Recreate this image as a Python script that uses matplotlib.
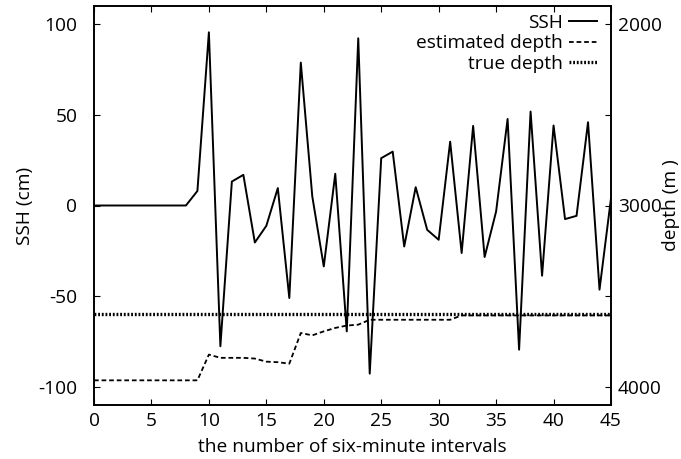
import matplotlib
matplotlib.use("Agg")
import matplotlib.pyplot as plt
import numpy as np

plt.rcParams['font.family'] = ['Open Sans', 'DejaVu Sans']
plt.rcParams['axes.unicode_minus'] = False

intervals = list(range(46))
ssh = [0, 0, 0, 0, 0, 0, 0, 0, 0, 8, 95.5, -77.6, 13.2, 16.9, -20.4, -11.2, 9.6, -51,
       78.8, 5, -33.6, 17.5, -69.4, 92.2, -92.7, 26.1, 29.7, -22.6, 10.1, -13.4, -18.9,
       35.2, -26.2, 43.9, -28.4, -3.3, 47.7, -79.5, 51.8, -38.7, 44.1, -7.5, -5.7, 45.9,
       -46.4, 4]
est_depth = [3964, 3964, 3964, 3964, 3964, 3964, 3964, 3964, 3964, 3964, 3822, 3840,
             3840, 3840, 3844, 3861, 3864, 3872, 3703, 3716, 3694, 3675, 3662, 3657,
             3630, 3630, 3630, 3630, 3630, 3630, 3630, 3630, 3606, 3606, 3606, 3606,
             3606, 3606, 3606, 3606, 3606, 3606, 3606, 3606, 3606, 3606]
true_depth = [3600] * 46

x_ticks = [0, 5, 10, 15, 20, 25, 30, 35, 40, 45]
ssh_ticks = [-100, -50, 0, 50, 100]
depth_ticks = [2000, 2500, 3000, 3500, 4000]
depth_labels = ['2000', '', '3000', '', '4000']

fig = plt.figure(figsize=(6.81, 4.59), dpi=100)
ax = fig.add_axes([94/681, 54/459, (611-94)/681, (405-6)/459])
ax2 = ax.twinx()

l1, = ax.plot(intervals, ssh, color='black', lw=1.4, label='SSH')
l2, = ax2.plot(intervals, est_depth, color='black', lw=1.3, ls=(0, (2.6, 1.6)), label='estimated depth')
l3, = ax2.plot(intervals, true_depth, color='black', lw=2.4, ls=(0, (0.55, 0.55)), label='true depth')

ax.set_xlim(0, 45)
ax.set_ylim(-110, 110)
ax2.set_ylim(4100, 1900)
ax.set_xticks(x_ticks)
ax.set_yticks(ssh_ticks)
ax2.set_yticks(depth_ticks)
ax2.set_yticklabels(depth_labels)

fs = 13.8
ax.tick_params(axis='x', direction='in', top=True, length=4, labelsize=fs, pad=5)
ax.tick_params(axis='y', direction='in', right=False, length=4, labelsize=fs, pad=12)
ax2.tick_params(axis='y', direction='in', length=4, labelsize=fs, pad=5)
for a in (ax, ax2):
    for s in a.spines.values():
        s.set_linewidth(1.2)

ax.set_xlabel('the number of six-minute intervals', fontsize=fs, labelpad=6)
ax.set_ylabel('SSH (cm)', fontsize=fs, labelpad=3)
ax2.set_ylabel('depth (m )', fontsize=fs, labelpad=0)

leg = ax2.legend(handles=[l1, l2, l3], loc='upper right', frameon=False, markerfirst=False,
                 fontsize=fs, handlelength=1.45, handletextpad=0.35, labelspacing=0.12,
                 borderaxespad=0.0, borderpad=0.0,
                 bbox_to_anchor=(1 - 14/517, 1 - 8/399))
for t in leg.get_texts():
    t.set_ha('right')

fig.savefig('out.png', dpi=100)
